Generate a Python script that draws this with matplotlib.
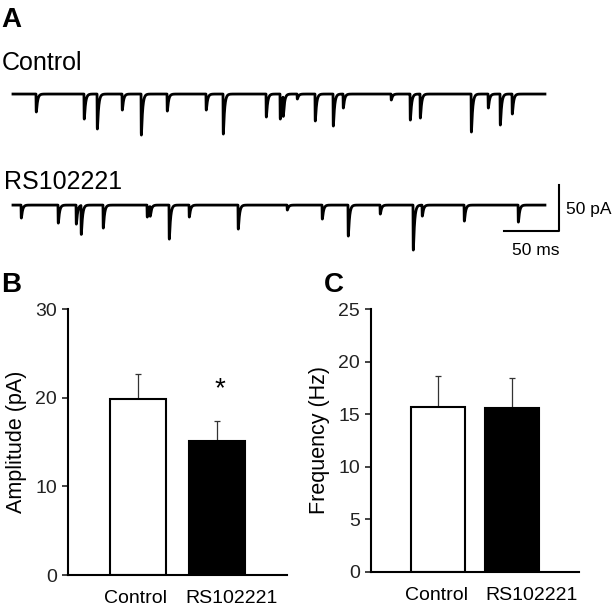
import matplotlib.pyplot as plt
import numpy as np

plt.rcParams['font.family'] = ['Liberation Sans', 'DejaVu Sans']

groups = ["Control", "RS102221"]
amp_mean = [19.9, 15.1]
amp_err = [2.8, 2.3]
freq_mean = [15.7, 15.6]
freq_err = [2.9, 2.8]

# mEPSC events: time (ms), amplitude (pA)
ctrl_t = [20.0, 63.6, 75.5, 98.2, 115.5, 139.1, 174.5, 190.0, 229.1, 241.8,
          244.5, 257.3, 273.6, 290.0, 299.1, 342.7, 360.0, 369.1, 415.5,
          430.9, 441.8, 452.7]
ctrl_a = [19.5, 27.2, 38.0, 17.4, 44.6, 18.5, 17.4, 43.5, 25.0, 27.2,
          21.7, 5.4, 29.3, 34.8, 15.2, 6.5, 28.3, 26.1, 41.3,
          15.2, 33.7, 21.7]
rs_t = [6.4, 40.0, 56.4, 60.9, 80.9, 120.9, 123.6, 140.9, 159.1, 203.6,
        248.2, 280.0, 303.6, 332.7, 362.7, 370.9, 409.1, 458.2]
rs_a = [14.1, 19.6, 20.7, 31.5, 25.0, 13.0, 10.9, 37.0, 13.0, 26.1,
        5.4, 15.2, 33.7, 9.8, 48.9, 12.0, 17.4, 18.5]
trace_end = 482.7  # ms


def make_trace(times, amps):
    t = np.arange(-0.9, trace_end, 0.05)
    y = np.zeros_like(t)
    tr, td = 0.12, 1.1
    tp = td * tr / (td - tr) * np.log(td / tr)
    norm = np.exp(-tp / td) - np.exp(-tp / tr)
    for t0, a in zip(times, amps):
        s = t - t0
        m = s > 0
        y[m] -= a * (np.exp(-s[m] / td) - np.exp(-s[m] / tr)) / norm
    return t, y


fig = plt.figure(figsize=(6.12, 6.12), dpi=100)

# panel A: traces, 1.1 px per ms and 0.92 px per pA
axA = fig.add_axes([0, 1 - 260 / 612, 1, 200 / 612])
axA.set_xlim(-12.7, 543.6)
axA.set_ylim(-180.4, 37)
axA.axis("off")

t1, y1 = make_trace(ctrl_t, ctrl_a)
t2, y2 = make_trace(rs_t, rs_a)
rs_offset = -120.7
axA.plot(t1, y1, color="black", lw=2.0)
axA.plot(t2, y2 + rs_offset, color="black", lw=2.0)

# scale bar
axA.plot([445.5, 495.5, 495.5], [-148.9, -148.9, -98.9], color="black", lw=1.5)
axA.text(501.8, -126, "50 pA", fontsize=12.5, va="center", ha="left")
axA.text(474.5, -170, "50 ms", fontsize=12.5, va="center", ha="center")

fig.text(1 / 612, 1 - 20 / 612, "A", fontsize=20, fontweight="bold", va="center")
fig.text(2 / 612, 1 - 63 / 612, "Control", fontsize=18, va="center")
fig.text(4 / 612, 1 - 182 / 612, "RS102221", fontsize=18, va="center")

# panel B: amplitude
axB = fig.add_axes([68 / 612, 1 - 575 / 612, 219 / 612, 266 / 612])
axB.bar([0, 1], amp_mean, width=0.71, color=["white", "black"],
        edgecolor="black", linewidth=1.5, zorder=2)
axB.errorbar([0, 1], amp_mean, yerr=[[0, 0], amp_err], fmt="none",
             ecolor="#333333", elinewidth=0.9, capsize=2, capthick=0.9, zorder=1)
axB.text(1.03, 21.0, "*", fontsize=20, ha="center", va="center")
axB.set_xlim(-0.89, 1.88)
axB.set_ylim(0, 30)
axB.set_yticks([0, 10, 20, 30])
axB.set_xticks([-0.04, 1.18])
axB.set_ylabel("Amplitude (pA)", fontsize=15.5, labelpad=6)
fig.text(1 / 612, 1 - 285 / 612, "B", fontsize=20, fontweight="bold", va="center")

# panel C: frequency
axC = fig.add_axes([371 / 612, 1 - 572 / 612, 208 / 612, 263 / 612])
axC.bar([0, 1], freq_mean, width=0.73, color=["white", "black"],
        edgecolor="black", linewidth=1.5, zorder=2)
axC.errorbar([0, 1], freq_mean, yerr=[[0, 0], freq_err], fmt="none",
             ecolor="#333333", elinewidth=0.9, capsize=2, capthick=0.9, zorder=1)
axC.set_xlim(-0.91, 1.90)
axC.set_ylim(0, 25)
axC.set_yticks([0, 5, 10, 15, 20, 25])
axC.set_xticks([-0.03, 1.26])
axC.set_ylabel("Frequency (Hz)", fontsize=15.5, labelpad=6)
fig.text(324 / 612, 1 - 285 / 612, "C", fontsize=20, fontweight="bold", va="center")

for ax in (axB, axC):
    ax.spines["top"].set_visible(False)
    ax.spines["right"].set_visible(False)
    ax.spines["left"].set_linewidth(1.5)
    ax.spines["bottom"].set_linewidth(1.5)
    ax.set_xticklabels(groups, fontsize=14)
    ax.tick_params(axis="x", length=0, pad=11)
    ax.tick_params(axis="y", length=4, width=1.2, labelsize=14, pad=4,
                   colors="#222222")

fig.savefig("out.png", dpi=100)
